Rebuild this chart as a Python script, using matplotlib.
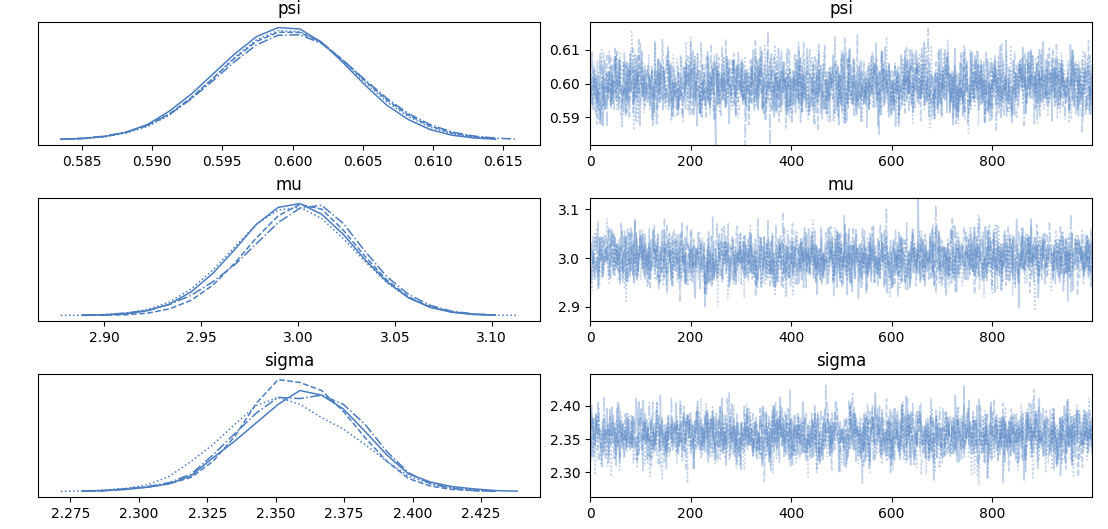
import numpy as np
import matplotlib
matplotlib.use("agg")
import matplotlib.pyplot as plt

var_names = ["psi", "mu", "sigma"]
chain_styles = ["-", "--", "-.", ":"]
line_color = "#4a7dc0"
n_draws = 1000

# kde grids (x range of each variable) and per-chain densities
psi_grid = np.linspace(0.5835, 0.6160, 22)
psi_kde = [
    [0.5, 1.0, 2.4, 5.5, 11.2, 20.8, 33.0, 47.5, 62.0, 74.5, 81.0, 80.0, 70.5, 55.5, 39.5, 25.0, 14.6, 7.4, 3.4, 1.4, 0.5, np.nan],
    [0.4, 1.1, 2.5, 5.4, 10.6, 18.8, 30.4, 44.4, 58.9, 71.0, 77.7, 77.5, 70.3, 57.3, 42.6, 28.8, 17.8, 10.0, 5.0, 2.3, 1.0, np.nan],
    [0.45, 1.1, 2.7, 5.5, 10.6, 18.4, 29.5, 42.7, 56.5, 68.5, 75.5, 75.8, 69.5, 57.3, 43.4, 30.0, 18.9, 11.0, 5.7, 2.8, 1.3, 0.5],
    [0.35, 0.9, 2.2, 4.9, 9.7, 17.8, 30.2, 44.4, 59.6, 72.2, 78.9, 78.1, 70.0, 56.5, 41.5, 27.5, 16.7, 9.0, 4.5, 2.1, 0.8, np.nan],
]

mu_grid = np.linspace(2.8776, 3.1132, 22)
mu_kde = [
    [np.nan, 0.05, 0.07, 0.2, 0.57, 1.35, 2.8, 5.0, 7.8, 10.8, 12.8, 13.25, 12.0, 9.6, 6.6, 4.0, 2.1, 0.95, 0.38, 0.12, 0.04, np.nan],
    [np.nan, 0.01, 0.03, 0.09, 0.28, 0.78, 1.8, 3.6, 6.2, 9.2, 11.8, 13.15, 12.6, 10.1, 7.0, 4.2, 2.2, 1.0, 0.42, 0.14, 0.05, np.nan],
    [np.nan, 0.03, 0.1, 0.3, 0.6, 1.3, 2.4, 4.0, 6.0, 8.5, 11.0, 12.7, 13.05, 10.9, 7.6, 4.6, 2.5, 1.2, 0.5, 0.18, 0.06, np.nan],
    [0.01, 0.03, 0.1, 0.28, 0.72, 1.6, 3.15, 5.4, 8.1, 10.8, 12.5, 12.8, 11.5, 9.1, 6.4, 3.9, 2.1, 1.0, 0.42, 0.15, 0.05, 0.01],
]

sigma_grid = np.linspace(2.2715, 2.4382, 22)
sigma_kde = [
    [np.nan, 0.1, 0.2, 0.4, 0.8, 1.4, 2.8, 5.9, 8.8, 12.0, 15.2, 17.6, 16.8, 14.4, 10.5, 6.4, 3.1, 1.7, 0.9, 0.5, 0.2, 0.1],
    [np.nan, 0.1, 0.2, 0.5, 0.8, 1.4, 2.5, 5.3, 9.6, 15.4, 19.5, 19.0, 17.6, 14.0, 9.4, 5.3, 2.3, 1.0, 0.4, 0.2, 0.1, np.nan],
    [np.nan, 0.1, 0.2, 0.5, 0.9, 1.6, 3.1, 6.4, 10.1, 13.7, 16.4, 16.2, 16.8, 15.2, 11.7, 7.0, 3.3, 1.4, 0.6, 0.2, 0.1, np.nan],
    [0.06, 0.16, 0.3, 0.6, 1.2, 2.7, 5.3, 8.2, 11.7, 15.0, 16.4, 15.2, 12.9, 10.9, 8.2, 5.3, 2.7, 1.4, 0.7, 0.3, 0.16, np.nan],
]

# chain location / spread of the posterior draws, estimated from the panels
psi_means = [0.5994, 0.5997, 0.5998, 0.5996]
psi_sds = [0.0049, 0.0050, 0.0051, 0.0049]
mu_means = [2.998, 3.003, 3.005, 2.997]
mu_sds = [0.030, 0.029, 0.030, 0.031]
sigma_means = [2.358, 2.355, 2.358, 2.350]
sigma_sds = [0.021, 0.020, 0.021, 0.022]

trace_ylims = [(0.5818, 0.6182), (2.871, 3.123), (2.263, 2.448)]

# the individual MCMC draws cannot be read from the picture: they are
# sampled here (seeded) with the chain means / spreads above
rng = np.random.default_rng(7)


def chain_draws(mean, sd, phi=0.3):
    e = rng.normal(0, sd * np.sqrt(1 - phi ** 2), n_draws)
    x = np.empty(n_draws)
    x[0] = rng.normal(0, sd)
    for i in range(1, n_draws):
        x[i] = phi * x[i - 1] + e[i]
    return mean + x


grids = [psi_grid, mu_grid, sigma_grid]
kdes = [psi_kde, mu_kde, sigma_kde]
means = [psi_means, mu_means, sigma_means]
sds = [psi_sds, mu_sds, sigma_sds]

fig, axes = plt.subplots(3, 2, figsize=(11.08, 5.29), dpi=100)
fig.subplots_adjust(left=0.0343, right=0.9856, top=0.9584, bottom=0.0605,
                    wspace=0.0996, hspace=0.431)

draw_idx = np.arange(n_draws)
for row, name in enumerate(var_names):
    ax_kde, ax_tr = axes[row]
    for c, ls in enumerate(chain_styles):
        ax_kde.plot(grids[row], kdes[row][c], color=line_color, ls=ls, lw=1.1)
        ax_tr.plot(draw_idx, chain_draws(means[row][c], sds[row][c]),
                   color=line_color, ls=ls, lw=1.1, alpha=0.35)
    ax_kde.set_yticks([])
    ax_kde.set_title(name)
    ax_tr.set_title(name)
    ax_tr.set_xlim(0, n_draws - 1)
    ax_tr.set_ylim(*trace_ylims[row])

axes[0, 0].set_xticks([0.585, 0.590, 0.595, 0.600, 0.605, 0.610, 0.615])
axes[0, 0].set_xticklabels(["0.585", "0.590", "0.595", "0.600", "0.605", "0.610", "0.615"])
axes[0, 1].set_yticks([0.59, 0.60, 0.61])
axes[0, 1].set_yticklabels(["0.59", "0.60", "0.61"])
axes[1, 0].set_xticks([2.90, 2.95, 3.00, 3.05, 3.10])
axes[1, 0].set_xticklabels(["2.90", "2.95", "3.00", "3.05", "3.10"])
axes[1, 1].set_yticks([2.9, 3.0, 3.1])
axes[2, 0].set_xticks([2.275, 2.300, 2.325, 2.350, 2.375, 2.400, 2.425])
axes[2, 0].set_xticklabels(["2.275", "2.300", "2.325", "2.350", "2.375", "2.400", "2.425"])
axes[2, 1].set_yticks([2.30, 2.35, 2.40])
axes[2, 1].set_yticklabels(["2.30", "2.35", "2.40"])
for ax in axes[:, 1]:
    ax.set_xticks([0, 200, 400, 600, 800])

fig.savefig("out.png", dpi=100)
